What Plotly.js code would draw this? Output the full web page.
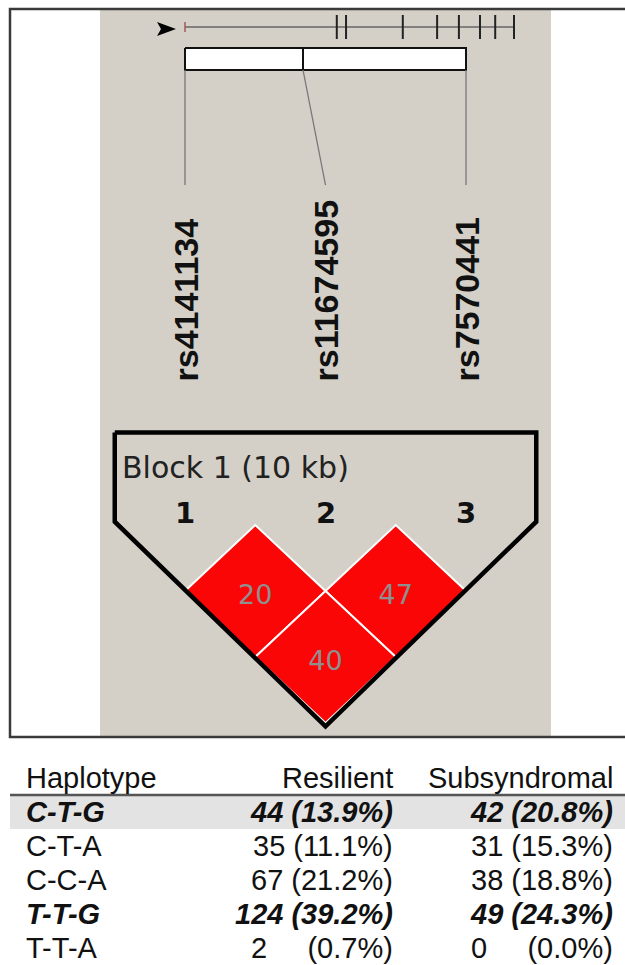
<!DOCTYPE html>
<html><head><meta charset="utf-8">
<script src="https://cdn.plot.ly/plotly-3.0.1.min.js"></script>
<style>html,body{margin:0;padding:0;background:#fff;overflow:hidden;} #chart{width:625px;height:965px;}</style>
</head><body><div id="chart"></div>
<script>
// ---------------- data ----------------
const snpNames = ['rs4141134', 'rs11674595', 'rs7570441'];
const snpNumbers = ['1', '2', '3'];
const snpKb = [0, 4.2, 10];                 // marker position inside the block (kb)
const blockKb = 10;
const blockLabel = 'Block 1 (10 kb)';
const ldFirst = [1, 2, 1];                  // pair: first marker
const ldSecond = [2, 3, 3];                 // pair: second marker
const ldValues = [20, 47, 40];
const mapMarkers = [0, 46, 48.8, 66, 76.4, 83, 89.4, 94, 99.7]; // overview map (relative units)
const mapSpan = [0, 100];

const columnHeaders = ['Haplotype', 'Resilient', 'Subsyndromal'];
const haplotypes = ['C-T-G', 'C-T-A', 'C-C-A', 'T-T-G', 'T-T-A'];
const resilientN = [44, 35, 67, 124, 2];
const resilientPct = [13.9, 11.1, 21.2, 39.2, 0.7];
const subsyndromalN = [42, 31, 38, 49, 0];
const subsyndromalPct = [20.8, 15.3, 18.8, 24.3, 0.0];
const emphasized = [true, false, false, true, false];
const shaded = [true, false, false, false, false];

// ---------------- layout constants ----------------
const W = 625, H = 965;
const SNP_PX0 = 185, SNP_STEP = 140.5;   // x pixel of marker 1, pixels per marker
const LD_PX0 = 525, LD_STEP = 66;        // y pixel of level 0, pixels per level
const MAP_PX0 = 185, MAP_SCALE = 3.3;    // overview map
const ROW_PX0 = 812, ROW_STEP = 34;      // table rows
const n = snpNames.length;
const idx = snpNames.map((_, i) => i + 1);
const kbToIdx = kb => 1 + kb / blockKb * (n - 1);

const RED = '#fb0606';
const traces = [];

// overview map line + ticks
traces.push({type: 'scatter', mode: 'lines', xaxis: 'x3', yaxis: 'y', x: mapSpan, y: [27, 27],
  line: {color: '#666', width: 1.5}, hoverinfo: 'skip'});
const tx = [], ty = [];
mapMarkers.slice(1).forEach(m => { tx.push(m, m, null); ty.push(15, 39, null); });
traces.push({type: 'scatter', mode: 'lines', xaxis: 'x3', yaxis: 'y', x: tx, y: ty,
  line: {color: '#222', width: 2}, hoverinfo: 'skip'});
traces.push({type: 'scatter', mode: 'lines', xaxis: 'x3', yaxis: 'y', x: [mapMarkers[0], mapMarkers[0]], y: [22, 32],
  line: {color: '#a05a5a', width: 1.5}, hoverinfo: 'skip'});

// block box
const bx0 = kbToIdx(0), bx1 = kbToIdx(blockKb);
traces.push({type: 'scatter', mode: 'lines', xaxis: 'x2', yaxis: 'y',
  x: [bx0, bx1, bx1, bx0, bx0], y: [48, 48, 70, 70, 48], fill: 'toself', fillcolor: '#fff',
  line: {color: '#111', width: 2}, hoverinfo: 'skip'});
snpKb.slice(1, -1).forEach(kb => {
  traces.push({type: 'scatter', mode: 'lines', xaxis: 'x2', yaxis: 'y', x: [kbToIdx(kb), kbToIdx(kb)], y: [48, 70],
    line: {color: '#111', width: 2}, hoverinfo: 'skip'});
});
// connectors
snpKb.forEach((kb, i) => {
  traces.push({type: 'scatter', mode: 'lines', xaxis: 'x2', yaxis: 'y', x: [kbToIdx(kb), idx[i]], y: [70, 185],
    line: {color: '#777', width: 1.3}, hoverinfo: 'skip'});
});

// LD diamonds
ldValues.forEach((v, k) => {
  const cx = (ldFirst[k] + ldSecond[k]) / 2, d = ldSecond[k] - ldFirst[k];
  traces.push({type: 'scatter', mode: 'lines', xaxis: 'x2', yaxis: 'y2',
    x: [cx - 0.5, cx, cx + 0.5, cx, cx - 0.5], y: [d, d - 1, d, d + 1, d],
    fill: 'toself', fillcolor: RED, line: {color: '#fff', width: 2}, hoverinfo: 'skip'});
});
const TEXT_DROP = 0.1;   // label sits slightly below diamond centre
traces.push({type: 'scatter', mode: 'text', xaxis: 'x2', yaxis: 'y2',
  x: ldValues.map((v, k) => (ldFirst[k] + ldSecond[k]) / 2),
  y: ldValues.map((v, k) => ldSecond[k] - ldFirst[k] + TEXT_DROP),
  text: ldValues.map(String), textposition: 'middle center',
  textfont: {family: 'DejaVu Sans', size: 27, color: '#8f8f8f'}, hoverinfo: 'skip'});

// block outline
traces.push({type: 'scatter', mode: 'lines', xaxis: 'x2', yaxis: 'y2',
  x: [0.5, n + 0.5, n + 0.5, (n + 1) / 2, 0.5, 0.5],
  y: [-1.4, -1.4, -0.05, n + 0.05, -0.05, -1.4],
  line: {color: '#000', width: 4.5}, hoverinfo: 'skip'});

// ---------------- annotations ----------------
const ann = [];
snpNames.forEach((s, i) => ann.push({xref: 'x2', yref: 'y', x: idx[i], y: 384, text: '<b>' + s + '</b>',
  textangle: -90, xanchor: 'center', yanchor: 'bottom', showarrow: false,
  font: {family: 'Liberation Sans', size: 34, color: '#111'}}));
snpNumbers.forEach((s, i) => ann.push({xref: 'x2', yref: 'y', x: idx[i], y: 513, text: '<b>' + s + '</b>',
  xanchor: 'center', yanchor: 'middle', showarrow: false,
  font: {family: 'DejaVu Sans', size: 29, color: '#111'}}));
ann.push({xref: 'x', yref: 'y', x: 120, y: 467, text: blockLabel, xanchor: 'left', yanchor: 'middle',
  showarrow: false, font: {family: 'DejaVu Sans', size: 30, color: '#222'}});

const tf = {family: 'Liberation Sans', size: 29, color: '#111'};
const colX = [24, 395, 615];
const colAnchor = ['left', 'right', 'right'];
columnHeaders.forEach((h, c) => ann.push({xref: 'x', yref: 'y3', x: colX[c], y: -1, text: h,
  xanchor: colAnchor[c], yanchor: 'middle', showarrow: false, font: tf}));
const cell = (num, pct) => num + (num < 10 ? '\u2007\u2007 ' : ' ') + '(' + pct.toFixed(1) + '%)';
haplotypes.forEach((hp, r) => {
  const vals = [hp, cell(resilientN[r], resilientPct[r]), cell(subsyndromalN[r], subsyndromalPct[r])];
  vals.forEach((v, c) => ann.push({xref: 'x', yref: 'y3', x: colX[c], y: r,
    text: emphasized[r] ? '<b><i>' + v + '</i></b>' : v,
    xanchor: colAnchor[c], yanchor: 'middle', showarrow: false, font: tf}));
});

// ---------------- shapes ----------------
const shapes = [
  {type: 'rect', xref: 'x', yref: 'y', x0: 100, x1: 551, y0: 10, y1: 736, fillcolor: '#d4d0c8', line: {width: 0}, layer: 'below'},
  {type: 'rect', xref: 'x', yref: 'y', x0: 10, x1: 640, y0: 9, y1: 737, line: {color: '#3a3a3a', width: 2.5}, layer: 'below'},
  {type: 'path', xref: 'x', yref: 'y', path: 'M157,22 L176,29 L157,36 L161,29 Z', fillcolor: '#000', line: {width: 0}},
];
shaded.forEach((s, r) => { if (s) shapes.push({type: 'rect', xref: 'x', yref: 'y3', x0: 10, x1: 625, y0: r - 0.5, y1: r + 0.5,
  fillcolor: '#e3e3e3', line: {width: 0}, layer: 'below'}); });
shapes.push({type: 'line', xref: 'x', yref: 'y3', x0: 10, x1: 625, y0: -0.5, y1: -0.5, line: {color: '#555', width: 2.5}});

const hidden = {visible: false, showgrid: false, zeroline: false, fixedrange: true};
const layout = {
  width: W, height: H, margin: {l: 0, r: 0, t: 0, b: 0},
  paper_bgcolor: '#fff', plot_bgcolor: 'rgba(0,0,0,0)', showlegend: false,
  xaxis: Object.assign({range: [0, W], domain: [0, 1]}, hidden),
  yaxis: Object.assign({range: [H, 0], domain: [0, 1]}, hidden),
  xaxis2: Object.assign({range: [1 - SNP_PX0 / SNP_STEP, 1 + (W - SNP_PX0) / SNP_STEP], overlaying: 'x'}, hidden),
  yaxis2: Object.assign({range: [(H - LD_PX0) / LD_STEP, -LD_PX0 / LD_STEP], overlaying: 'y'}, hidden),
  xaxis3: Object.assign({range: [-MAP_PX0 / MAP_SCALE, (W - MAP_PX0) / MAP_SCALE], overlaying: 'x'}, hidden),
  yaxis3: Object.assign({range: [(H - ROW_PX0) / ROW_STEP, -ROW_PX0 / ROW_STEP], overlaying: 'y'}, hidden),
  annotations: ann, shapes: shapes,
};
Plotly.newPlot('chart', traces, layout, {staticPlot: true, displayModeBar: false});
</script></body></html>
